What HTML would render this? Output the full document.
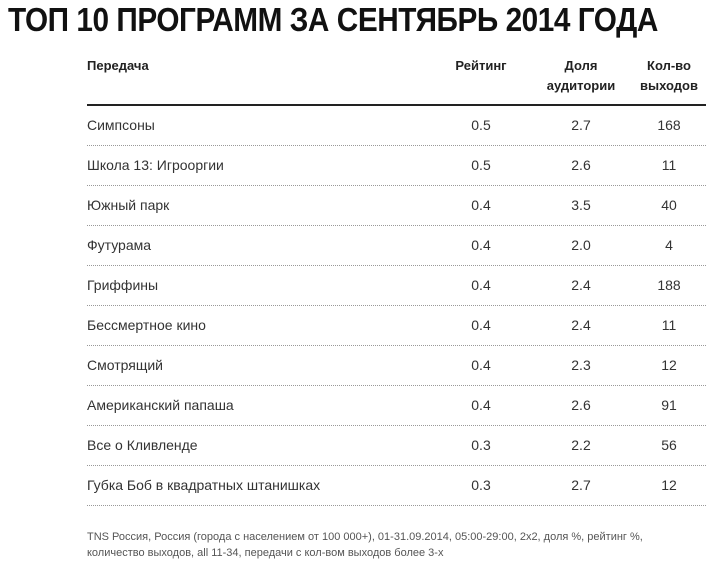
<!DOCTYPE html>
<html><head><meta charset="utf-8"><style>
body{margin:0;width:712px;height:573px;background:#fff;position:relative;overflow:hidden;font-family:"Liberation Sans","DejaVu Sans",sans-serif;color:#222}
.t{position:absolute;left:8px;top:1px;font-size:33px;font-weight:bold;white-space:nowrap;transform-origin:0 0;letter-spacing:-0.5px;color:#111}
.h{position:absolute;font-size:13px;font-weight:bold;line-height:20px;color:#222}
.c{position:absolute;font-size:14px;line-height:16px;white-space:nowrap;color:#333}
.n{position:absolute;font-size:14px;line-height:16px;width:60px;text-align:center;color:#333}
.d{position:absolute;left:87px;width:619px;border-top:1px dotted #999}
.f{position:absolute;left:87px;top:529px;font-size:11px;line-height:16px;color:#555;width:610px}
</style></head><body>
<div class="t" id="t">ТОП 10 ПРОГРАММ ЗА СЕНТЯБРЬ 2014 ГОДА</div>
<div class="h" style="left:87px;top:56px">Передача</div>
<div class="h" style="left:441px;top:56px;width:80px;text-align:center">Рейтинг</div>
<div class="h" style="left:531px;top:56px;width:100px;text-align:center">Доля<br>аудитории</div>
<div class="h" style="left:629px;top:56px;width:80px;text-align:center">Кол-во<br>выходов</div>
<div style="position:absolute;left:87px;top:104px;width:619px;height:2px;background:#222"></div>
<div id="rows"></div>
<div class="f">TNS Россия, Россия (города с населением от 100 000+), 01-31.09.2014, 05:00-29:00, 2x2, доля %, рейтинг %,<br>количество выходов, all 11-34, передачи с кол-вом выходов более 3-х</div>
<script>
var d=[["Симпсоны","0.5","2.7","168"],["Школа 13: Игроорги­и".replace("­",""),"0.5","2.6","11"],["Южный парк","0.4","3.5","40"],["Футурама","0.4","2.0","4"],["Гриффины","0.4","2.4","188"],["Бессмертное кино","0.4","2.4","11"],["Смотрящий","0.4","2.3","12"],["Американский папаша","0.4","2.6","91"],["Все о Кливленде","0.3","2.2","56"],["Губка Боб в квадратных штанишках","0.3","2.7","12"]];
var h="";
d.forEach(function(r,i){var y=117+i*40;
h+='<div class="c" style="left:87px;top:'+y+'px">'+r[0]+'</div>';
h+='<div class="n" style="left:451px;top:'+y+'px">'+r[1]+'</div>';
h+='<div class="n" style="left:551px;top:'+y+'px">'+r[2]+'</div>';
h+='<div class="n" style="left:639px;top:'+y+'px">'+r[3]+'</div>';
h+='<div class="d" style="top:'+(145+i*40)+'px"></div>';});
document.getElementById("rows").innerHTML=h;
var t=document.getElementById("t");t.style.transform="scaleX("+(650/t.scrollWidth)+")";
</script>
</body></html>
